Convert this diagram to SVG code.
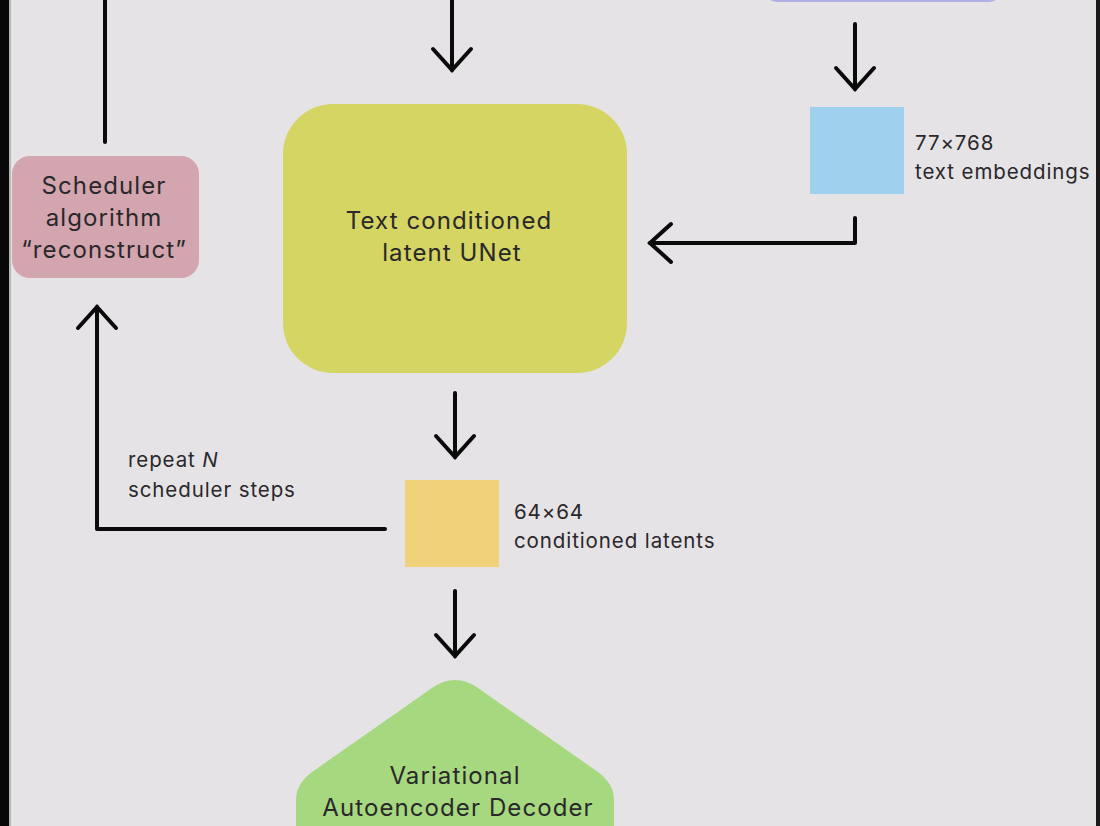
<svg xmlns="http://www.w3.org/2000/svg" width="1100" height="826" viewBox="0 0 1100 826">
<defs>
<style>
.lbl{font-family:Inter,"Noto Sans","Liberation Sans",sans-serif;fill:#2a282a;}
.big{font-size:24px;letter-spacing:1.1px;}
.sm{font-size:20.5px;letter-spacing:0.9px;}
.ln{fill:none;stroke:#0a0a0a;stroke-width:4;stroke-linecap:round;stroke-linejoin:round;}
</style>
<marker id="ah" viewBox="-24 -22 27 44" markerWidth="27" markerHeight="44" refX="0" refY="0" orient="auto" markerUnits="userSpaceOnUse">
<path d="M-21 -19 L0 0 L-21 19" fill="none" stroke="#0a0a0a" stroke-width="4" stroke-linecap="round" stroke-linejoin="miter"/>
</marker>
</defs>
<rect x="0" y="0" width="1100" height="826" fill="#e6e3e6"/>
<rect x="0" y="0" width="9" height="826" fill="#080808"/>
<rect x="9" y="0" width="2" height="826" fill="#b8b6b8"/>
<rect x="1096" y="0" width="4" height="826" fill="#1a1a1a"/>

<g id="text-encoder">
<rect x="765" y="-40" width="236" height="42" rx="12" fill="#b2afe5"/>
</g>

<g id="scheduler">
<rect x="12" y="156" width="187" height="122" rx="18" fill="#d3a6af"/>
<text class="lbl big" x="104" y="194" text-anchor="middle">Scheduler</text>
<text class="lbl big" x="104" y="226" text-anchor="middle">algorithm</text>
<text class="lbl big" x="104" y="258" text-anchor="middle">“reconstruct”</text>
</g>

<g id="unet">
<rect x="283" y="104" width="344" height="269" rx="50" fill="#d4d563"/>
<text class="lbl big" x="449" y="229" text-anchor="middle">Text conditioned</text>
<text class="lbl big" x="452" y="261" text-anchor="middle">latent UNet</text>
</g>

<g id="text-embeddings">
<rect x="810" y="107" width="94" height="87" fill="#9fd1ee"/>
<text class="lbl sm" x="915" y="150">77×768</text>
<text class="lbl sm" x="915" y="179">text embeddings</text>
</g>

<g id="latents">
<rect x="405" y="480" width="94" height="87" fill="#f0d27a"/>
<text class="lbl sm" x="514" y="519">64×64</text>
<text class="lbl sm" x="514" y="548">conditioned latents</text>
</g>

<g id="vae-decoder">
<path d="M296 826 L296 800 Q296 784 312 772 L432 688 Q455 672 478 688 L598 772 Q614 784 614 800 L614 826 Z" fill="#a6d880"/>
<text class="lbl big" x="455" y="784" text-anchor="middle">Variational</text>
<text class="lbl big" x="458" y="816" text-anchor="middle">Autoencoder Decoder</text>
</g>

<g id="repeat-label">
<text class="lbl sm" x="128" y="467">repeat <tspan font-style="italic">N</tspan></text>
<text class="lbl sm" x="128" y="497">scheduler steps</text>
</g>

<g id="connectors">
<path class="ln" d="M105 142 L105 -5"/>
<path class="ln" d="M452 -5 L452 70" marker-end="url(#ah)"/>
<path class="ln" d="M855 24 L855 89" marker-end="url(#ah)"/>
<path class="ln" d="M855 218 L855 243 L650 243" marker-end="url(#ah)"/>
<path class="ln" d="M455 393 L455 457" marker-end="url(#ah)"/>
<path class="ln" d="M385 529 L97 529 L97 307" marker-end="url(#ah)"/>
<path class="ln" d="M455 591 L455 656" marker-end="url(#ah)"/>
</g>
</svg>
